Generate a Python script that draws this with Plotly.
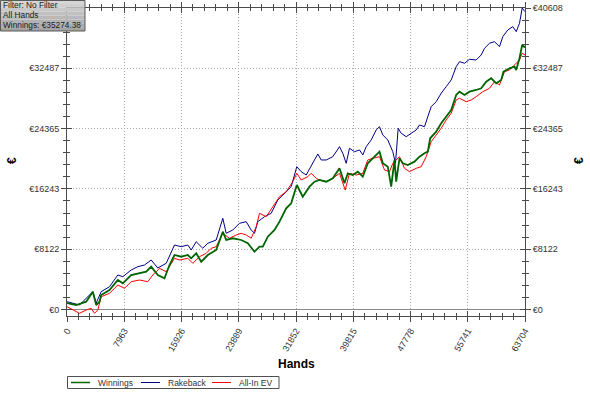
import plotly.graph_objects as go

# ---------------- data ----------------
hands_winnings = [0, 1280, 2671, 3589, 4061, 4520, 4757, 5911, 7066, 7761, 8930, 10084, 11016, 11711,
                  12629, 13561, 14257, 14952, 15884, 16802, 17275, 17970, 18666, 19584, 20752, 21670,
                  22143, 23061, 24229, 25147, 26079, 26775, 27234, 27929, 28861, 29557, 30489, 31184,
                  31963, 32797, 33493, 33729, 34425, 35120, 36052, 36970, 37902, 38597, 39056, 39752,
                  40447, 41143, 41838, 42770, 43466, 43925, 44620, 45093, 45552, 45788, 46247, 46706,
                  47402, 48334, 49029, 49725, 50184, 50517, 51352, 52047, 52743, 53438, 54134, 54593,
                  55288, 55984, 56916, 57611, 58307, 59002, 59698, 60393, 60713, 61547, 62243, 62479,
                  62938, 63314, 63704]
winnings = [860, 606, 1051, 2398, 606, 1051, 1953, 2627, 3974, 3529, 4647, 4876, 5092, 5765,
            4647, 4203, 5994, 7341, 7112, 7341, 6897, 7570, 6439, 7341, 8015, 10480,
            9362, 9591, 9362, 8917, 7786, 8459, 8459, 9806, 10709, 11827, 13632, 14305,
            16770, 15194, 16097, 16541, 17215, 17444, 17215, 17673, 19020, 16999, 18346, 18117,
            18562, 17888, 19693, 20582, 21256, 19693, 19235, 16541, 20138, 17215, 20367, 19693,
            19464, 19909, 20582, 21040, 21256, 23061, 23950, 25081, 25970, 26873, 28893, 29338,
            28893, 29338, 29567, 29796, 30685, 31143, 30469, 30914, 32032, 32490, 32705, 32261,
            33837, 35628, 35274]

hands_rakeback = [0, 1739, 3589, 4061, 4757, 5911, 7066, 7761, 8930, 9848, 10779, 11711, 12629,
                  13798, 14952, 15884, 16802, 17275, 17970, 18888, 19584, 20752, 21670, 22143,
                  23061, 23993, 24925, 25620, 26079, 26538, 27470, 28402, 29320, 30252, 31184,
                  31963, 32575, 33270, 34188, 34884, 35357, 36052, 36970, 37902, 38361, 38834,
                  39293, 39988, 40684, 41143, 41616, 42311, 43007, 43466, 43925, 44620, 45316,
                  45691, 46066, 46484, 47179, 47875, 48570, 49029, 49725, 50184, 50656, 51352,
                  52047, 52743, 53438, 54134, 54593, 55288, 55984, 56916, 57611, 58070, 58766,
                  59461, 60156, 60615, 61311, 62006, 62479, 62938, 63314, 63704]
rakeback = [1051, 606, 2398, 876, 2398, 3071, 4647, 4418, 5321, 5765, 5994, 6668, 5590,
            6223, 8688, 8459, 8688, 8015, 9133, 8244, 8917, 9362, 12285, 10264,
            10709, 11611, 11827, 10709, 10264, 11827, 12500, 12958, 14750, 15652, 16541,
            19235, 18562, 18117, 19693, 20946, 20138, 20138, 20582, 21929, 21040, 19693,
            21714, 21256, 21485, 20811, 21929, 22832, 24179, 24623, 23505, 22832, 21256,
            19693, 24408, 23734, 23276, 23734, 24179, 24852, 24623, 25970, 27317, 27991,
            29122, 30011, 30914, 32705, 33379, 33163, 33702, 33608, 34281, 35184, 35857,
            36073, 35399, 36746, 37649, 38093, 37420, 38551, 40608, 40114]

hands_allin = [0, 807, 1739, 2671, 3366, 3825, 4284, 4757, 5911, 7066, 7998, 8930, 10084,
               11238, 11934, 12866, 13798, 14952, 15648, 16802, 17498, 18429, 19361, 20057,
               20752, 21670, 22602, 23534, 24229, 24925, 25620, 26316, 26775, 27707, 28624,
               29557, 30489, 31406, 31963, 32575, 33493, 33966, 34661, 35120, 36052, 36970,
               37902, 38695, 39293, 40225, 41143, 41838, 42533, 43466, 44161, 44856, 45316,
               45788, 46247, 46943, 47638, 48570, 49266, 49961, 50656, 51352, 52047, 52743,
               53438, 54134, 54593, 55524, 56220, 56916, 57834, 58766, 59461, 60156, 60851,
               61547, 62243, 62938, 63314, 63704]
allin_ev = [377, -67, -512, -67, 162, -512, -67, 1724, 2182, 3300, 2856, 3745, 3974,
            3745, 4647, 5550, 5092, 6897, 6668, 6897, 6223, 7112, 7570, 8244,
            8459, 10264, 9591, 10035, 10264, 10035, 9591, 11153, 12958, 12500, 13847,
            15194, 15868, 17215, 18346, 17444, 17888, 18346, 17673, 17444, 17215, 17673,
            18346, 16097, 18346, 18117, 18346, 20138, 20367, 20582, 18791, 18562, 19693,
            20138, 20582, 19020, 18562, 19020, 19235, 20582, 22603, 23505, 24408, 25526,
            26428, 28220, 28449, 27991, 28220, 28664, 29338, 29796, 30685, 30240, 32032,
            32261, 32934, 33608, 34510, 34281]

series_names = ["Winnings", "Rakeback", "All-In EV"]
series_colors = ["#006400", "#000088", "#ff0000"]
series_widths = [1.8, 1, 1]

x_tickvals = [0, 7963, 15926, 23889, 31852, 39815, 47778, 55741, 63704]
x_ticktext = ["0", "7963", "15926", "23889", "31852", "39815", "47778", "55741", "63704"]
y_tickvals = [0, 8122, 16243, 24365, 32487, 40608]
y_ticktext = ["€0", "€8122", "€16243", "€24365", "€32487", "€40608"]

x_range = [0, 63704]
y_range = [-875, 40608]

# ---------------- layout helpers (pixel -> paper) ----------------
W, H = 590, 393
L, R, T, B = 67, 525, 8, 316


def px(x):
    return (x - L) / (R - L)


def py(y):
    return (B - y) / (B - T)


FONT = "Liberation Sans, Arial, sans-serif"
AXC = "#4a4a4a"
TXT = "#333333"
GRID = "#a8a8a8"
DOT = "1px,2px"

fig = go.Figure()

# draw order: Rakeback, All-In EV, Winnings (winnings on top)
for idx, (hx, vy) in ((1, (hands_rakeback, rakeback)), (2, (hands_allin, allin_ev)),
                      (0, (hands_winnings, winnings))):
    fig.add_trace(go.Scatter(x=hx, y=vy, mode="lines", name=series_names[idx],
                             line=dict(color=series_colors[idx], width=series_widths[idx]),
                             showlegend=False))

# invisible helpers so the overlay axes (crossing ticks) are drawn
for xa, ya in (("x", "y2"), ("x", "y3"), ("x2", "y")):
    fig.add_trace(go.Scatter(x=[None], y=[None], xaxis=xa, yaxis=ya, showlegend=False,
                             hoverinfo="skip", mode="lines"))

common_tick = dict(tickcolor=AXC, tickwidth=1, automargin=False)

fig.update_layout(
    width=W, height=H,
    margin=dict(l=L, r=W - R, t=T, b=H - B, pad=0, autoexpand=False),
    paper_bgcolor="white", plot_bgcolor="white",
    font=dict(family=FONT, size=9, color=TXT),
    showlegend=False,
    xaxis=dict(range=x_range, tickmode="array", tickvals=x_tickvals, ticktext=x_ticktext,
               tickangle=-60, ticks="outside", ticklen=5, showline=True, linecolor=AXC,
               linewidth=1, mirror="ticks", showgrid=True, gridcolor=GRID, griddash=DOT,
               gridwidth=1, zeroline=False, tickfont=dict(size=9, color=TXT),
               minor=dict(ticks="outside", ticklen=3, tick0=0, dtick=1592.6, tickcolor=AXC,
                          showgrid=False),
               **common_tick),
    xaxis2=dict(range=x_range, overlaying="x", side="bottom", anchor="y", tickmode="array",
                tickvals=x_tickvals, showticklabels=False, ticks="inside", ticklen=5,
                showline=True, linecolor=AXC, mirror="ticks", showgrid=False, zeroline=False,
                minor=dict(ticks="inside", ticklen=3, tick0=0, dtick=1592.6, tickcolor=AXC,
                           showgrid=False),
                **common_tick),
    yaxis=dict(range=y_range, tickmode="array", tickvals=y_tickvals, ticktext=y_ticktext,
               ticks="outside", ticklen=5, showline=True, linecolor=AXC, linewidth=1,
               mirror=True, showgrid=True, gridcolor=GRID, griddash=DOT, gridwidth=1,
               zeroline=True, zerolinecolor="#8a8a8a", zerolinewidth=1,
               tickfont=dict(size=9, color=TXT),
               minor=dict(ticks="outside", ticklen=3, tick0=0, dtick=1624.32, tickcolor=AXC,
                          showgrid=False),
               **common_tick),
    yaxis2=dict(range=y_range, overlaying="y", side="right", anchor="x", tickmode="array",
                tickvals=y_tickvals, ticktext=y_ticktext, ticks="outside", ticklen=5,
                showline=False, showgrid=False, zeroline=False,
                tickfont=dict(size=9, color=TXT),
                minor=dict(ticks="outside", ticklen=3, tick0=0, dtick=1624.32, tickcolor=AXC,
                           showgrid=False),
                **common_tick),
    yaxis3=dict(range=y_range, overlaying="y", side="left", anchor="x", tickmode="array",
                tickvals=y_tickvals, showticklabels=False, ticks="inside", ticklen=5,
                showline=True, linecolor=AXC, mirror="ticks", showgrid=False, zeroline=False,
                minor=dict(ticks="inside", ticklen=3, tick0=0, dtick=1624.32, tickcolor=AXC,
                           showgrid=False),
                **common_tick),
)

# axis titles
bold = dict(family=FONT, size=12, color="#000000")
fig.add_annotation(text="<b>Hands</b>", x=px(296), y=py(364), xref="paper", yref="paper",
                   showarrow=False, font=bold, xanchor="center", yanchor="middle")
fig.add_annotation(text="<b>€</b>", x=px(12), y=py(161), xref="paper", yref="paper",
                   showarrow=False, font=bold, textangle=-90, xanchor="center", yanchor="middle")
fig.add_annotation(text="<b>€</b>", x=px(579), y=py(161), xref="paper", yref="paper",
                   showarrow=False, font=bold, textangle=-90, xanchor="center", yanchor="middle")

# legend (drawn as a boxed key below the plot)
leg_l, leg_r, leg_t, leg_b = 67.5, 279, 376.5, 388.5
fig.add_shape(type="rect", xref="paper", yref="paper", x0=px(leg_l), x1=px(leg_r),
              y0=py(leg_b), y1=py(leg_t), fillcolor="white",
              line=dict(color="#505050", width=1), layer="above")
leg_line_x = [71, 141, 212]
leg_text_x = [96, 166, 237]
leg_y = 382.5
for i in range(3):
    fig.add_shape(type="line", xref="paper", yref="paper", x0=px(leg_line_x[i]),
                  x1=px(leg_line_x[i] + 19), y0=py(leg_y), y1=py(leg_y),
                  line=dict(color=series_colors[i], width=1.5 if i == 0 else 1),
                  layer="above")
    fig.add_annotation(text=series_names[i], x=px(leg_text_x[i]), y=py(leg_y), xref="paper",
                       yref="paper", showarrow=False, xanchor="left", yanchor="middle",
                       font=dict(family=FONT, size=8.5, color=TXT))

# info box (top-left), gray gradient
box_l, box_r, box_t, box_b = 0, 85, 0, 31
greys = ["#d6d6d6", "#cfcfcf", "#c8c8c8", "#c0c0c0", "#b9b9b9", "#b2b2b2", "#ababab", "#a4a4a4"]
n = len(greys)
for i, c in enumerate(greys):
    y0 = box_t + (box_b - box_t) * i / n
    y1 = box_t + (box_b - box_t) * (i + 1) / n
    fig.add_shape(type="rect", xref="paper", yref="paper", x0=px(box_l), x1=px(box_r),
                  y0=py(y1), y1=py(y0), fillcolor=c, line=dict(width=0), layer="above")
fig.add_shape(type="rect", xref="paper", yref="paper", x0=px(box_l + 0.5), x1=px(box_r),
              y0=py(box_b), y1=py(box_t + 0.5), fillcolor="rgba(0,0,0,0)",
              line=dict(color="#5a5a5a", width=1), layer="above")
info_lines = ["Filter: No Filter", "All Hands", "Winnings: €35274.38"]
for i, t in enumerate(info_lines):
    fig.add_annotation(text=t, x=px(2), y=py(5.3 + 9.8 * i), xref="paper", yref="paper",
                       showarrow=False, xanchor="left", yanchor="middle", borderpad=0,
                       font=dict(family=FONT, size=8.3, color="#1a1a1a"))

fig.write_html("out.html", config={"displayModeBar": False},
               post_script="document.body.style.margin='0px';document.body.style.padding='0px';")
